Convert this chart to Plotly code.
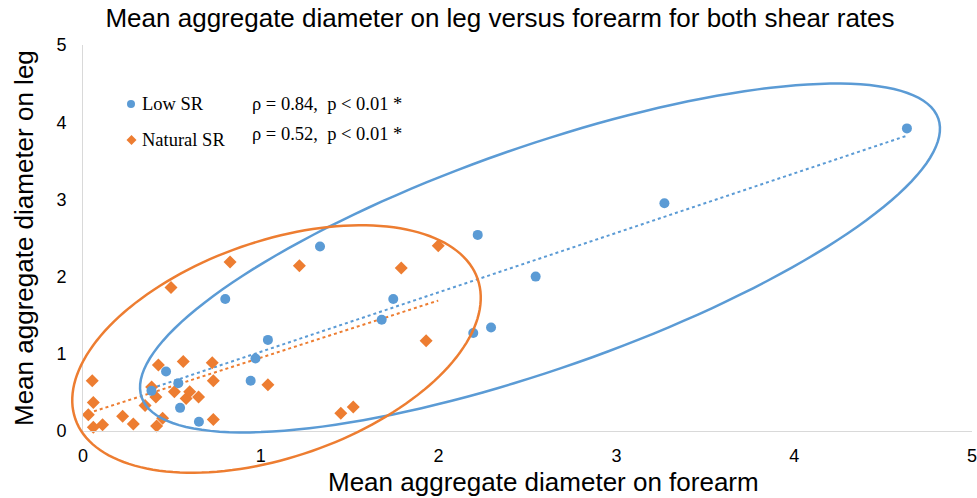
import numpy as np
import plotly.graph_objects as go

# ---- data ----
low_x = [0.385, 0.467, 0.536, 0.546, 0.652, 0.80, 0.943, 0.97, 1.04, 1.333,
         1.68, 1.745, 2.195, 2.22, 2.295, 2.546, 3.27, 4.634]
low_y = [0.52, 0.77, 0.62, 0.30, 0.12, 1.71, 0.65, 0.94, 1.18, 2.39,
         1.44, 1.71, 1.27, 2.54, 1.34, 2.00, 2.95, 3.92]

natural_x = [0.03, 0.052, 0.058, 0.058, 0.11, 0.223, 0.283, 0.349, 0.386, 0.41,
             0.414, 0.424, 0.448, 0.495, 0.514, 0.564, 0.58, 0.60, 0.65, 0.727,
             0.733, 0.733, 0.827, 1.04, 1.217, 1.45, 1.52, 1.79, 1.93, 1.998]
natural_y = [0.21, 0.65, 0.37, 0.05, 0.08, 0.19, 0.09, 0.33, 0.57, 0.44,
             0.065, 0.855, 0.165, 1.86, 0.51, 0.90, 0.42, 0.51, 0.44, 0.885,
             0.65, 0.15, 2.19, 0.60, 2.14, 0.23, 0.31, 2.11, 1.17, 2.40]

series_names = ["Low SR", "Natural SR"]
stats_text = ["ρ = 0.84,\u00a0\u00a0p < 0.01 *", "ρ = 0.52,\u00a0\u00a0p < 0.01 *"]
tick_vals = [0, 1, 2, 3, 4, 5]

BLUE = "#5B9BD5"
ORANGE = "#ED7D31"

# ---- layout geometry (pixels) ----
W_PX, H_PX = 977, 498
PL, PR, PT, PB = 83, 972, 45, 431
PW, PH = PR - PL, PB - PT


def px_to_paper(x, y):
    return (x - PL) / PW, (PB - y) / PH


def ellipse_path(cx, cy, a, b, theta_deg, n=160):
    th = np.radians(theta_deg)
    t = np.linspace(0, 2 * np.pi, n, endpoint=False)
    x = cx + a * np.cos(t) * np.cos(th) - b * np.sin(t) * np.sin(th)
    y = cy - (a * np.cos(t) * np.sin(th) + b * np.sin(t) * np.cos(th))
    pts = [px_to_paper(xx, yy) for xx, yy in zip(x, y)]
    return "M " + " L ".join(f"{p[0]:.5f},{p[1]:.5f}" for p in pts) + " Z"


def trend(xs, ys):
    k, c = np.polyfit(xs, ys, 1)
    xx = np.array([min(xs), max(xs)])
    return xx, k * xx + c


fig = go.Figure()

bx, by = trend(low_x, low_y)
ox, oy = trend(natural_x, natural_y)
fig.add_trace(go.Scatter(x=bx, y=by, mode="lines", showlegend=False, hoverinfo="skip",
                         line=dict(color=BLUE, width=2, dash="dot")))
fig.add_trace(go.Scatter(x=ox, y=oy, mode="lines", showlegend=False, hoverinfo="skip",
                         line=dict(color=ORANGE, width=2, dash="dot")))

fig.add_trace(go.Scatter(x=natural_x, y=natural_y, mode="markers", name=series_names[1],
                         marker=dict(symbol="diamond", size=10, color=ORANGE),
                         showlegend=False, cliponaxis=False))
fig.add_trace(go.Scatter(x=low_x, y=low_y, mode="markers", name=series_names[0],
                         marker=dict(symbol="circle", size=10, color=BLUE),
                         showlegend=False, cliponaxis=False))

shapes = [
    dict(type="path", xref="paper", yref="paper",
         path=ellipse_path(540, 258, 422, 111, 19.3),
         line=dict(color=BLUE, width=2.5)),
    dict(type="path", xref="paper", yref="paper",
         path=ellipse_path(276.5, 349, 213, 108, 19.2),
         line=dict(color=ORANGE, width=2.5)),
]

# legend markers
lx0, ly0 = px_to_paper(127, 100)
lx1, ly1 = px_to_paper(135, 108)
shapes.append(dict(type="circle", xref="paper", yref="paper", x0=lx0, y0=ly1, x1=lx1, y1=ly0,
                   fillcolor=BLUE, line=dict(width=0)))
dcx, dcy = 131.5, 140
dpts = [px_to_paper(dcx, dcy - 5), px_to_paper(dcx + 5, dcy), px_to_paper(dcx, dcy + 5), px_to_paper(dcx - 5, dcy)]
shapes.append(dict(type="path", xref="paper", yref="paper",
                   path="M " + " L ".join(f"{p[0]:.5f},{p[1]:.5f}" for p in dpts) + " Z",
                   fillcolor=ORANGE, line=dict(width=0)))

serif = dict(family="Liberation Serif, Times New Roman, serif", size=18.5, color="black")
annotations = []
for name, stat, (tx, ty), (sx, sy) in zip(series_names, stats_text,
                                          [(140, 104), (140, 140)],
                                          [(250, 104), (250, 134)]):
    ax_, ay_ = px_to_paper(tx, ty)
    annotations.append(dict(text=name, x=ax_, y=ay_, xref="paper", yref="paper",
                            xanchor="left", yanchor="middle", showarrow=False, font=serif))
    bx_, by_ = px_to_paper(sx, sy)
    annotations.append(dict(text=stat, x=bx_, y=by_, xref="paper", yref="paper",
                            xanchor="left", yanchor="middle", showarrow=False, font=serif))

sans = "Liberation Sans, Arial, sans-serif"
xt, yt = px_to_paper(543, 482)
annotations.append(dict(text="Mean aggregate diameter on forearm", x=xt, y=yt, xref="paper", yref="paper",
                        xanchor="center", yanchor="middle", showarrow=False,
                        font=dict(family=sans, size=26, color="black")))
xt, yt = px_to_paper(24, 238)
annotations.append(dict(text="Mean aggregate diameter on leg", x=xt, y=yt, xref="paper", yref="paper",
                        xanchor="center", yanchor="middle", showarrow=False, textangle=-90,
                        font=dict(family=sans, size=26, color="black")))

axis_common = dict(range=[0, 5], tickvals=tick_vals, showgrid=False, zeroline=False,
                   showline=True, linecolor="#D9D9D9", linewidth=1,
                   ticks="", tickfont=dict(family=sans, size=18, color="black"),
                   ticklabeloverflow="allow", fixedrange=True)

fig.update_layout(
    width=W_PX, height=H_PX,
    margin=dict(l=PL, r=W_PX - PR, t=PT, b=H_PX - PB, autoexpand=False),
    paper_bgcolor="white", plot_bgcolor="white",
    title=dict(text="Mean aggregate diameter on leg versus forearm for both shear rates",
               x=500 / W_PX, xref="container", xanchor="center",
               y=1 - 18 / H_PX, yref="container", yanchor="middle",
               font=dict(family=sans, size=26, color="black")),
    xaxis=dict(**axis_common, ticklabelstandoff=8),
    yaxis=dict(**axis_common, ticklabelstandoff=12),
    shapes=shapes,
    annotations=annotations,
    showlegend=False,
)

fig.write_html("out.html", config={"displayModeBar": False},
               post_script="document.body.style.margin='0px';document.body.style.overflow='hidden';")
